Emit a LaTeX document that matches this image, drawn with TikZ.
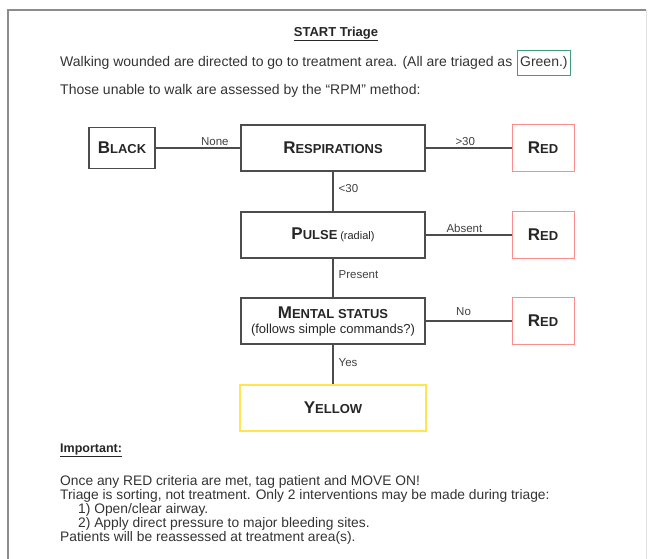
\documentclass[tikz,border=0pt]{standalone}
\usepackage{fontspec}
\setmainfont{Liberation Sans}
\definecolor{boxgreen}{HTML}{3E9E7E}
\newcommand\mysc[2]{{\fontsize{17}{17}\selectfont #1}{\fontsize{13}{13}\selectfont #2}}
\begin{document}
\begin{tikzpicture}[x=1pt,y=-1pt,
  mainbox/.style={draw=black!70, line width=1.8pt, minimum width=184pt, minimum height=46pt, inner sep=1pt, font=\bfseries, align=center, text=black!85},
  blackbox/.style={draw=black!70, line width=1.8pt, minimum width=66pt, minimum height=41pt, font=\bfseries, text=black!85},
  redbox/.style={draw=red!45, line width=1pt, minimum width=62pt, minimum height=47pt, font=\bfseries, text=black!85},
  yellowbox/.style={draw=yellow!80!orange!70, line width=1.2pt, minimum width=186pt, minimum height=46pt, font=\bfseries, text=black!85},
  greenbox/.style={draw=boxgreen, line width=1.2pt, inner sep=3pt, minimum height=25pt},
  conn/.style={draw=black!70, line width=1.4pt},
  lbl/.style={font=\fontsize{11.5}{11.5}\selectfont, text=black!75, inner sep=2pt},
  bodytext/.style={font=\fontsize{14}{16}\selectfont, text=black!80, inner sep=0pt, anchor=west}]
\useasboundingbox (0,0) rectangle (648,559);
% frame
\draw[black!45, line width=2pt] (8,570) -- (8,10) -- (646,10);
\draw[black!12, line width=1pt] (646,10) -- (646,570);
% header
\node[font=\fontsize{13}{13}\selectfont\bfseries, text=black!85] (title) at (336,34) {\underline{START Triage}};
\node[bodytext] (line1) at (60,63) {Walking wounded are directed to go to treatment area. (All are triaged as};
\node[greenbox, anchor=west, font=\fontsize{14}{16}\selectfont, text=black!80] (green) at ([xshift=4pt]line1.east) {Green.)};
\node[bodytext] (line2) at (60,91) {Those unable to walk are assessed by the ``RPM'' method:};
% boxes
\node[blackbox] (black) at (122,148) {\mysc{B}{LACK}};
\node[mainbox] (resp) at (333,148) {\mysc{R}{ESPIRATIONS}};
\node[redbox] (red1) at (543,148) {\mysc{R}{ED}};
\node[mainbox] (pulse) at (333,235) {\mysc{P}{ULSE} {\fontsize{11}{11}\selectfont\mdseries (radial)}};
\node[redbox] (red2) at (543,235) {\mysc{R}{ED}};
\node[mainbox, font=\bfseries\fontsize{13}{15}\selectfont] (mental) at (333,321) {\mysc{M}{ENTAL STATUS}\\{\fontsize{13}{15}\selectfont\mdseries (follows simple commands?)}};
\node[redbox] (red3) at (543,321) {\mysc{R}{ED}};
\node[yellowbox] (yellow) at (333,408) {\mysc{Y}{ELLOW}};
% connectors
\draw[conn] (resp.west) -- node[lbl, above, pos=0.3] {None} (black.east);
\draw[conn] (resp.east) -- node[lbl, above, pos=0.46] {>30} (red1.west);
\draw[conn] (resp.south) -- node[lbl, right, pos=0.42, xshift=3pt] {<30} (pulse.north);
\draw[conn] (pulse.east) -- node[lbl, above, pos=0.45] {Absent} (red2.west);
\draw[conn] (pulse.south) -- node[lbl, right, pos=0.42, xshift=3pt] {Present} (mental.north);
\draw[conn] (mental.east) -- node[lbl, above, pos=0.44, yshift=3pt] {No} (red3.west);
\draw[conn] (mental.south) -- node[lbl, right, pos=0.45, xshift=3pt] {Yes} (yellow.north);
% bottom notes
\node[font=\fontsize{12.5}{12.5}\selectfont\bfseries, text=black!85, anchor=west, inner sep=0pt] (imp) at (60,450) {\underline{Important:}};
\node[font=\fontsize{13.8}{14}\selectfont, text=black!80, anchor=north west, align=left, inner sep=0pt] (notes) at (60,475)
 {Once any RED criteria are met, tag patient and MOVE ON!\\
  Triage is sorting, not treatment. Only 2 interventions may be made during triage:\\
  \hspace*{18pt}1) Open/clear airway.\\
  \hspace*{18pt}2) Apply direct pressure to major bleeding sites.\\
  Patients will be reassessed at treatment area(s).};
\end{tikzpicture}
\end{document}
